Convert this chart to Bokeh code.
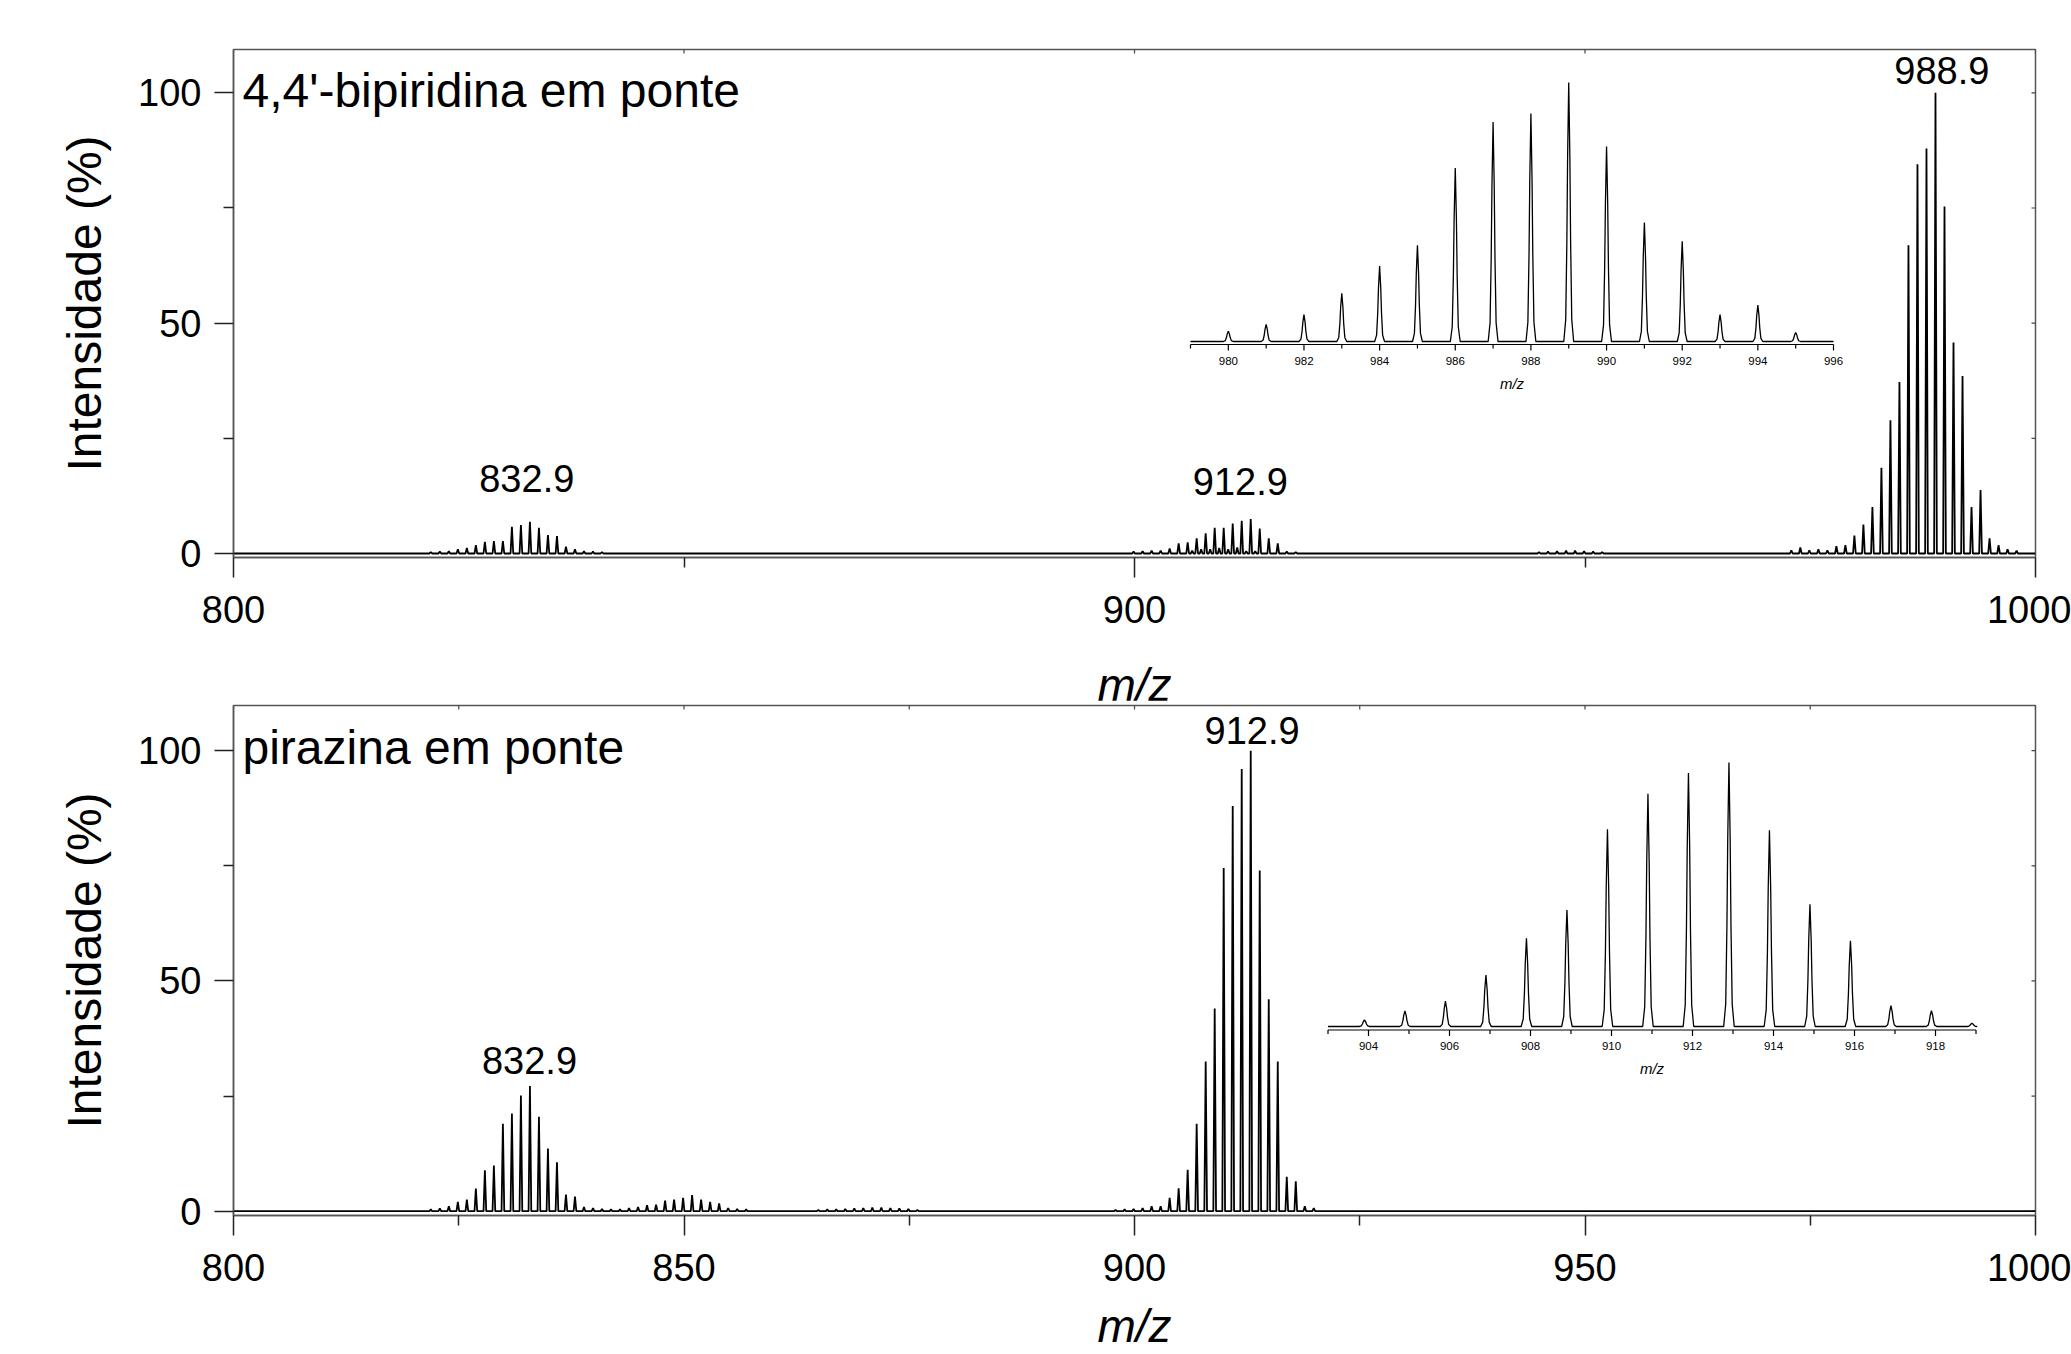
import numpy as np
from bokeh.plotting import figure
from bokeh.models import Range1d, FixedTicker
from bokeh.layouts import column
from bokeh.embed import file_html
from bokeh.resources import INLINE
from bokeh.core.properties import value

FONT = "Liberation Sans"

# ------------------------------------------------------------------ data
x_label = "m/z"
y_label = "Intensidade (%)"

# upper panel : 4,4'-bipiridina em ponte
top_name = "4,4'-bipiridina em ponte"
top_a_mz = [821.9, 822.9, 823.9, 824.9, 825.9, 826.9, 827.9, 828.9, 829.9, 830.9,
            831.9, 832.9, 833.9, 834.9, 835.9, 836.9, 837.9, 838.9, 839.9, 840.9]
top_a_int = [0.3, 0.4, 0.5, 0.9, 1.2, 1.8, 2.5, 2.7, 2.7, 5.8,
             6.2, 6.9, 5.6, 4.0, 3.8, 1.5, 0.9, 0.5, 0.4, 0.3]
top_b_mz = [899.9, 900.9, 901.9, 902.9, 903.9, 904.9, 905.9, 906.9, 907.9, 908.9,
            909.9, 910.9, 911.9, 912.9, 913.9, 914.9, 915.9, 916.9, 917.9]
top_b_int = [0.4, 0.5, 0.65, 0.65, 1.1, 2.2, 2.4, 3.3, 4.4, 5.6,
             5.6, 6.5, 7.1, 7.5, 5.4, 3.3, 2.2, 0.4, 0.3]
top_b2_mz = [906.4, 907.4, 908.4, 909.4, 910.4, 911.4, 912.4, 913.4]
top_b2_int = [0.6, 0.9, 0.9, 1.2, 0.9, 1.3, 0.5, 0.5]
top_c_mz = [944.9, 945.9, 946.9, 947.9, 948.9, 949.9, 950.9, 951.9]
top_c_int = [0.3, 0.4, 0.5, 0.6, 0.6, 0.5, 0.4, 0.3]
top_d_mz = [972.9, 973.9, 974.9, 975.9, 976.9, 977.9, 978.9, 979.9, 980.9, 981.9,
            982.9, 983.9, 984.9, 985.9, 986.9, 987.9, 988.9, 989.9, 990.9, 991.9,
            992.9, 993.9, 994.9, 995.9, 996.9, 997.9]
top_d_int = [0.7, 1.3, 0.7, 0.9, 0.7, 1.6, 1.8, 3.9, 6.3, 10.1,
             18.6, 28.9, 37.2, 66.9, 84.5, 87.9, 100.0, 75.3, 45.8, 38.5,
             10.1, 13.8, 3.3, 1.8, 0.9, 0.6]
top_tags = ["832.9", "912.9", "988.9"]
top_tag_mz = [832.9, 912.9, 988.9]
top_tag_int = [6.9, 7.5, 100.0]

# upper inset (relative intensity)
top_ins_mz = [980, 981, 982, 983, 984, 985, 986, 987, 988, 989, 990, 991, 992, 993, 994, 995]
top_ins_rel = [0.040, 0.066, 0.104, 0.186, 0.291, 0.372, 0.670, 0.847, 0.880, 1.000,
               0.753, 0.459, 0.387, 0.104, 0.141, 0.035]
top_ins_ticks = [980, 982, 984, 986, 988, 990, 992, 994, 996]
top_ins_minor = [979, 981, 983, 985, 987, 989, 991, 993, 995]

# lower panel : pirazina em ponte
bot_name = "pirazina em ponte"
bot_a_mz = [821.9, 822.9, 823.9, 824.9, 825.9, 826.9, 827.9, 828.9, 829.9, 830.9,
            831.9, 832.9, 833.9, 834.9, 835.9, 836.9, 837.9, 838.9, 839.9, 840.9,
            841.9, 842.9, 843.9, 844.9, 845.9, 846.9, 847.9, 848.9, 849.9, 850.9,
            851.9, 852.9, 853.9, 854.9, 855.9, 856.9]
bot_a_int = [0.4, 0.6, 1.1, 2.0, 2.5, 4.9, 8.9, 9.9, 19.0, 21.2,
             25.1, 27.2, 20.5, 13.6, 10.6, 3.6, 3.2, 0.9, 0.7, 0.5,
             0.4, 0.4, 0.7, 0.9, 1.3, 1.4, 2.3, 2.5, 2.9, 3.5,
             2.5, 2.0, 1.7, 0.7, 0.5, 0.4]
bot_b_mz = [864.9, 865.9, 866.9, 867.9, 868.9, 869.9, 870.9, 871.9, 872.9, 873.9, 874.9, 875.9]
bot_b_int = [0.3, 0.4, 0.4, 0.5, 0.6, 0.7, 0.8, 0.8, 0.7, 0.6, 0.5, 0.3]
bot_c_mz = [897.9, 898.9, 899.9, 900.9, 901.9, 902.9, 903.9, 904.9, 905.9, 906.9,
            907.9, 908.9, 909.9, 910.9, 911.9, 912.9, 913.9, 914.9, 915.9, 916.9,
            917.9, 918.9, 919.9]
bot_c_int = [0.3, 0.4, 0.5, 0.7, 1.1, 1.1, 2.9, 5.0, 9.0, 19.0,
             32.5, 44.0, 74.5, 88.0, 96.0, 100.0, 74.0, 46.0, 32.5, 7.5,
             6.5, 1.1, 0.7]
bot_tags = ["832.9", "912.9"]
bot_tag_mz = [832.9, 912.9]
bot_tag_int = [27.2, 100.0]

# lower inset (relative intensity)
bot_ins_mz = [903.9, 904.9, 905.9, 906.9, 907.9, 908.9, 909.9, 910.9, 911.9, 912.9,
              913.9, 914.9, 915.9, 916.9, 917.9, 918.9]
bot_ins_rel = [0.025, 0.059, 0.096, 0.195, 0.334, 0.441, 0.747, 0.882, 0.960, 1.000,
               0.743, 0.463, 0.325, 0.079, 0.060, 0.012]
bot_ins_ticks = [904, 906, 908, 910, 912, 914, 916, 918]
bot_ins_minor = [903, 905, 907, 909, 911, 913, 915, 917, 919]

y_ticks = [0, 50, 100]
y_minor = [25, 75]

# ------------------------------------------------------------------ helpers
STICK_OFF = [-0.15, 0.0, 0.15]
STICK_SHAPE = [0.0, 1.0, 0.0]
PEAK_OFF = [-0.13, -0.08, -0.05, -0.03, 0.0, 0.03, 0.05, 0.08, 0.13]
PEAK_SHAPE = [0.0, 0.085, 0.38, 0.71, 1.0, 0.71, 0.38, 0.085, 0.0]


def profile(mz, inten, offs, shape, lo, hi):
    pts = sorted(zip(mz, inten))
    xs, ys = [lo], [0.0]
    for m, h in pts:
        for o, s in zip(offs, shape):
            xs.append(m + o)
            ys.append(h * s)
    xs.append(hi)
    ys.append(0.0)
    return xs, ys


FIG_W = 2071
BL, BR = 233, 36
FRAME_W = FIG_W - BL - BR
X0, X1 = 800, 1000


def make_panel(height, btop, bbot, y0, y1, xt, xm, xlab_standoff, frame_h):
    p = figure(width=FIG_W, height=height, x_range=Range1d(X0, X1),
               y_range=Range1d(y0, y1), output_backend="svg", toolbar_location=None,
               min_border_left=BL, min_border_right=BR,
               min_border_top=btop, min_border_bottom=bbot)
    p.grid.visible = False
    p.outline_line_color = "#555555"
    p.outline_line_width = 1.5
    p.background_fill_color = "white"
    p.border_fill_color = "white"
    for ax in (p.xaxis[0], p.yaxis[0]):
        ax.axis_line_color = "#555555"
        ax.axis_line_width = 1.5
        ax.major_tick_line_color = "#222222"
        ax.minor_tick_line_color = "#222222"
        ax.major_tick_line_width = 1.5
        ax.minor_tick_line_width = 1.5
        ax.major_tick_in = 0
        ax.minor_tick_in = 0
        ax.major_label_text_font = FONT
        ax.major_label_text_font_size = "38px"
        ax.major_label_text_color = "black"
        ax.axis_label_text_font = FONT
        ax.axis_label_text_color = "black"
    p.xaxis.ticker = FixedTicker(ticks=xt, minor_ticks=xm)
    p.xaxis.major_tick_out = 20
    p.xaxis.minor_tick_out = 10
    p.xaxis.major_label_standoff = 18
    p.xaxis.axis_label = x_label
    p.xaxis.axis_label_text_font_style = "italic"
    p.xaxis.axis_label_text_font_size = "46px"
    p.xaxis.axis_label_standoff = xlab_standoff
    p.yaxis.ticker = FixedTicker(ticks=y_ticks, minor_ticks=y_minor)
    p.yaxis.major_tick_out = 19
    p.yaxis.minor_tick_out = 10
    p.yaxis.major_label_standoff = 13
    p.yaxis.axis_label = y_label
    p.yaxis.axis_label_text_font_style = "normal"
    p.yaxis.axis_label_text_font_size = "48px"
    p.yaxis.axis_label_standoff = 24

    # short inward ticks on the top and right frame edges
    xu = (X1 - X0) / FRAME_W
    yu = (y1 - y0) / frame_h
    tx = xt + xm
    p.segment(x0=tx, y0=[y1] * len(tx), x1=tx, y1=[y1 - 4 * yu] * len(tx),
              line_color="#444444", line_width=1.2)
    ty = y_ticks + y_minor
    p.segment(x0=[X1] * len(ty), y0=ty, x1=[X1 - 4 * xu] * len(ty), y1=ty,
              line_color="#444444", line_width=1.2)
    return p


def add_inset(p, frame_h, ins_mz, ins_rel, ticks, minor, x_a, px_a, x_b, px_b,
              base_px, top_px, lo, hi, ax_gap, lab_gap, mz_gap):
    # pixel geometry given relative to frame left / frame bottom
    ux = (x_b - x_a) / (px_b - px_a)
    xs0 = x_a - px_a * ux
    uy = 1.0 / (top_px - base_px)
    ys0 = -base_px * uy
    p.extra_x_ranges = {"ins": Range1d(xs0, xs0 + FRAME_W * ux)}
    p.extra_y_ranges = {"ins": Range1d(ys0, ys0 + frame_h * uy)}
    xs, ys = profile(ins_mz, ins_rel, PEAK_OFF, PEAK_SHAPE, lo, hi)
    p.line(xs, ys, x_range_name="ins", y_range_name="ins", line_color="black", line_width=1.3)
    ay = -ax_gap * uy
    p.line([lo, hi], [ay, ay], x_range_name="ins", y_range_name="ins",
           line_color="black", line_width=1.2)
    p.segment(x0=ticks, y0=[ay] * len(ticks), x1=ticks, y1=[ay - 6 * uy] * len(ticks),
              x_range_name="ins", y_range_name="ins", line_color="black", line_width=1.2)
    p.segment(x0=minor, y0=[ay] * len(minor), x1=minor, y1=[ay - 4 * uy] * len(minor),
              x_range_name="ins", y_range_name="ins", line_color="black", line_width=1.2)
    p.text(x=ticks, y=[-lab_gap * uy] * len(ticks), text=[str(t) for t in ticks],
           x_range_name="ins", y_range_name="ins", text_align="center",
           text_baseline="middle", text_font=value(FONT), text_font_size="11.5px",
           text_color="black")
    p.text(x=[(lo + hi) / 2], y=[-mz_gap * uy], text=[x_label],
           x_range_name="ins", y_range_name="ins", text_align="center",
           text_baseline="middle", text_font=value(FONT), text_font_size="15px",
           text_font_style="italic", text_color="black")


def add_tags(p, tags, tag_mz, tag_int, dx, dy_px, px_per_unit):
    xs = [m + d for m, d in zip(tag_mz, dx)]
    ys = [h + d / px_per_unit for h, d in zip(tag_int, dy_px)]
    p.text(x=xs, y=ys, text=tags, text_align="center", text_baseline="middle",
           text_font=value(FONT), text_font_size="38px", text_color="black")


# ------------------------------------------------------------------ top panel
TOP_FRAME_H = 508
TOP_BT, TOP_BB = 49, 175
TOP_H = TOP_BT + TOP_FRAME_H + TOP_BB
ty0, ty1 = -0.87, 109.4
t_ppu = TOP_FRAME_H / (ty1 - ty0)
pt = make_panel(TOP_H, TOP_BT, TOP_BB, ty0, ty1, [800, 900, 1000], [850, 950], 33,
                TOP_FRAME_H)

add_inset(pt, TOP_FRAME_H, top_ins_mz, top_ins_rel, top_ins_ticks, top_ins_minor,
          979, 957, 996, 1600, base_px=216, top_px=475, lo=979, hi=996,
          ax_gap=3, lab_gap=19, mz_gap=42)

all_mz = top_a_mz + top_b_mz + top_b2_mz + top_c_mz + top_d_mz
all_int = top_a_int + top_b_int + top_b2_int + top_c_int + top_d_int
xs, ys = profile(all_mz, all_int, STICK_OFF, STICK_SHAPE, X0, X1)
pt.line(xs, ys, line_color="black", line_width=1.8)
add_tags(pt, top_tags, top_tag_mz, top_tag_int, [-0.35, -1.15, 0.7], [43.5, 37, 22], t_ppu)
pt.text(x=[801.0], y=[100.4], text=[top_name], text_align="left", text_baseline="middle",
        text_font=value(FONT), text_font_size="48px", text_color="black")

# ------------------------------------------------------------------ bottom panel
BOT_TOP = 700                       # page y where the lower canvas starts
BOT_FRAME_H = 510
BOT_BT = 5
BOT_H = 1354 - BOT_TOP
BOT_BB = BOT_H - BOT_BT - BOT_FRAME_H
by0, by1 = -0.93, 109.8
b_ppu = BOT_FRAME_H / (by1 - by0)
pb = make_panel(BOT_H, BOT_BT, BOT_BB, by0, by1, [800, 850, 900, 950, 1000],
                [825, 875, 925, 975], 16, BOT_FRAME_H)
pb.margin = (BOT_TOP - TOP_H, 0, 0, 0)

add_inset(pb, BOT_FRAME_H, bot_ins_mz, bot_ins_rel, bot_ins_ticks, bot_ins_minor,
          904, 1135, 918, 1702, base_px=189, top_px=453, lo=903, hi=919,
          ax_gap=3.5, lab_gap=19.5, mz_gap=42)

all_mz = bot_a_mz + bot_b_mz + bot_c_mz
all_int = bot_a_int + bot_b_int + bot_c_int
xs, ys = profile(all_mz, all_int, STICK_OFF, STICK_SHAPE, X0, X1)
pb.line(xs, ys, line_color="black", line_width=1.8)
add_tags(pb, bot_tags, bot_tag_mz, bot_tag_int, [-0.05, 0.15], [25, 20], b_ppu)
pb.text(x=[801.0], y=[100.6], text=[bot_name], text_align="left", text_baseline="middle",
        text_font=value(FONT), text_font_size="48px", text_color="black")

layout = column(pt, pb, spacing=0)
open("out.html", "w").write(file_html(layout, INLINE))
